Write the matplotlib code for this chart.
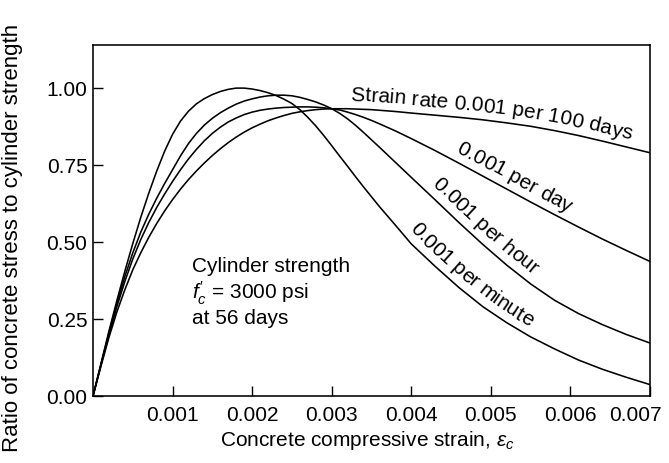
import numpy as np
import matplotlib
matplotlib.use("Agg")
import matplotlib.pyplot as plt
from matplotlib.font_manager import FontProperties
from matplotlib.transforms import ScaledTranslation

# Concrete compressive strain and stress / cylinder-strength ratio for four strain rates
strain = [0, 0.0001, 0.0002, 0.0003, 0.0004, 0.0005, 0.0006, 0.0007, 0.0008, 0.0009,
          0.001, 0.0011, 0.0012, 0.0013, 0.0014, 0.0015, 0.0016, 0.0017, 0.0018, 0.0019,
          0.002, 0.0021, 0.0022, 0.0023, 0.0024, 0.0025, 0.0026, 0.0027, 0.0028, 0.0029,
          0.003, 0.0031, 0.0032, 0.0033, 0.0034, 0.0035, 0.0036, 0.0038, 0.004, 0.0043,
          0.0046, 0.0049, 0.0052, 0.0055, 0.0058, 0.0061, 0.0064, 0.0067, 0.007]
ratio_per_minute = [0, 0.105, 0.21, 0.31, 0.405, 0.495, 0.58, 0.658, 0.73, 0.795,
                    0.85, 0.893, 0.925, 0.949, 0.966, 0.979, 0.989, 0.996, 1.0, 1.0,
                    0.997, 0.992, 0.985, 0.976, 0.964, 0.95, 0.93, 0.905, 0.877, 0.846,
                    0.813, 0.779, 0.746, 0.712, 0.679, 0.647, 0.615, 0.555, 0.494, 0.421,
                    0.352, 0.29, 0.238, 0.192, 0.153, 0.117, 0.087, 0.061, 0.037]
ratio_per_hour = [0, 0.103, 0.205, 0.30, 0.388, 0.465, 0.532, 0.59, 0.642, 0.69,
                  0.735, 0.78, 0.82, 0.853, 0.88, 0.902, 0.92, 0.935, 0.948, 0.958,
                  0.965, 0.971, 0.975, 0.977, 0.977, 0.975, 0.97, 0.963, 0.955, 0.945,
                  0.933, 0.918, 0.90, 0.879, 0.856, 0.832, 0.808, 0.759, 0.71, 0.637,
                  0.563, 0.492, 0.425, 0.364, 0.311, 0.268, 0.232, 0.2, 0.172]
ratio_per_day = [0, 0.1, 0.198, 0.29, 0.372, 0.445, 0.508, 0.563, 0.612, 0.656,
                 0.697, 0.735, 0.77, 0.801, 0.829, 0.853, 0.873, 0.89, 0.903, 0.914,
                 0.922, 0.928, 0.932, 0.935, 0.937, 0.938, 0.939, 0.939, 0.938, 0.936,
                 0.933, 0.929, 0.922, 0.914, 0.905, 0.895, 0.884, 0.861, 0.836, 0.797,
                 0.756, 0.714, 0.672, 0.63, 0.589, 0.549, 0.51, 0.473, 0.437]
ratio_per_100_days = [0, 0.097, 0.19, 0.273, 0.345, 0.41, 0.465, 0.515, 0.56, 0.601,
                      0.638, 0.672, 0.703, 0.731, 0.757, 0.781, 0.803, 0.823, 0.841, 0.857,
                      0.871, 0.883, 0.894, 0.903, 0.911, 0.918, 0.923, 0.927, 0.93, 0.932,
                      0.933, 0.933, 0.933, 0.932, 0.931, 0.93, 0.928, 0.924, 0.919, 0.912,
                      0.905, 0.897, 0.887, 0.876, 0.862, 0.846, 0.828, 0.809, 0.79]

x_ticks = [0.001, 0.002, 0.003, 0.004, 0.005, 0.006, 0.007]
x_tick_labels = ["0.001", "0.002", "0.003", "0.004", "0.005", "0.006", "0.007"]
y_ticks = [0.0, 0.25, 0.5, 0.75, 1.0]
y_tick_labels = ["0.00", "0.25", "0.50", "0.75", "1.00"]

# (series, label text, strain where the label starts)
curve_labels = [
    (ratio_per_100_days, "Strain rate 0.001 per 100 days", 0.00323),
    (ratio_per_day, "0.001 per day", 0.00450),
    (ratio_per_hour, "0.001 per hour", 0.00418),
    (ratio_per_minute, "0.001 per minute", 0.00390),
]

FONT = "Liberation Sans"
plt.rcParams.update({
    "font.family": [FONT, "DejaVu Sans"],
    "mathtext.fontset": "custom",
    "mathtext.rm": FONT,
    "mathtext.it": FONT + ":italic",
    "mathtext.bf": FONT + ":bold",
})

W, H = 669, 463
fig = plt.figure(figsize=(W / 100, H / 100), dpi=100)
fig.patch.set_facecolor("white")
ax = fig.add_axes([93 / W, 1 - 396 / H, 557 / W, 351 / H])

for series in (ratio_per_minute, ratio_per_hour, ratio_per_day, ratio_per_100_days):
    ax.plot(strain, series, color="black", lw=1.15, solid_joinstyle="round")

ax.set_xlim(0, 0.007)
ax.set_ylim(0, 1.14)
ax.set_xticks(x_ticks, x_tick_labels)
ax.set_yticks(y_ticks, y_tick_labels)
ax.tick_params(direction="in", length=7, width=1.0, labelsize=15, color="black")
ax.tick_params(axis="x", pad=7)
ax.tick_params(axis="y", pad=4)
for sp in ax.spines.values():
    sp.set_linewidth(1.15)

# keep the last strain label inside the figure
last = ax.xaxis.get_majorticklabels()[-1]
last.set_horizontalalignment("right")
last.set_transform(last.get_transform() + ScaledTranslation(0.12, 0, fig.dpi_scale_trans))

ax.set_xlabel(r"Concrete compressive strain, $\varepsilon_c$", fontsize=15)
ax.xaxis.set_label_coords(0.492, -0.128)
ax.xaxis.label.set_va("center")
ax.set_ylabel("Ratio of concrete stress to cylinder strength", fontsize=16)
ax.yaxis.set_label_coords(-0.144, 0.45)
ax.yaxis.label.set_va("center")

ax.text(0.00124, 0.45, "Cylinder strength\n$f_c'$ = 3000 psi\nat 56 days",
        fontsize=15, ha="left", va="top", linespacing=1.15)


def text_along_curve(ax, xs, ys, label, x_start, gap_px=8.0, size=15):
    """Write label character by character just above the polyline (xs, ys)."""
    renderer = ax.figure.canvas.get_renderer()
    prop = FontProperties(family=[FONT], size=size)

    def width(s):
        return renderer.get_text_width_height_descent(s, prop, ismath=False)[0]

    bar = width("|")
    prefix = [0.0] + [width(label[:i] + "|") - bar for i in range(1, len(label) + 1)]

    dense_x = np.linspace(x_start, xs[-1], 800)
    dense_y = np.interp(dense_x, xs, ys)
    pts = ax.transData.transform(np.column_stack([dense_x, dense_y]))
    arc = np.concatenate([[0.0], np.cumsum(np.hypot(np.diff(pts[:, 0]), np.diff(pts[:, 1])))])
    inv = ax.transData.inverted()

    def at(c):
        return np.interp(c, arc, pts[:, 0]), np.interp(c, arc, pts[:, 1])

    for i, ch in enumerate(label):
        if ch == " ":
            continue
        c = 0.5 * (prefix[i] + prefix[i + 1])
        px, py = at(c)
        x0, y0 = at(c - 8)
        x1, y1 = at(c + 8)
        theta = np.arctan2(y1 - y0, x1 - x0)
        nx, ny = -np.sin(theta), np.cos(theta)
        dx, dy = inv.transform((px + gap_px * nx, py + gap_px * ny))
        ax.text(dx, dy, ch, rotation=np.degrees(theta), rotation_mode="anchor",
                ha="center", va="baseline", fontproperties=prop)


for series, text, x0 in curve_labels:
    text_along_curve(ax, strain, series, text, x0)

fig.savefig("out.png", dpi=100)
